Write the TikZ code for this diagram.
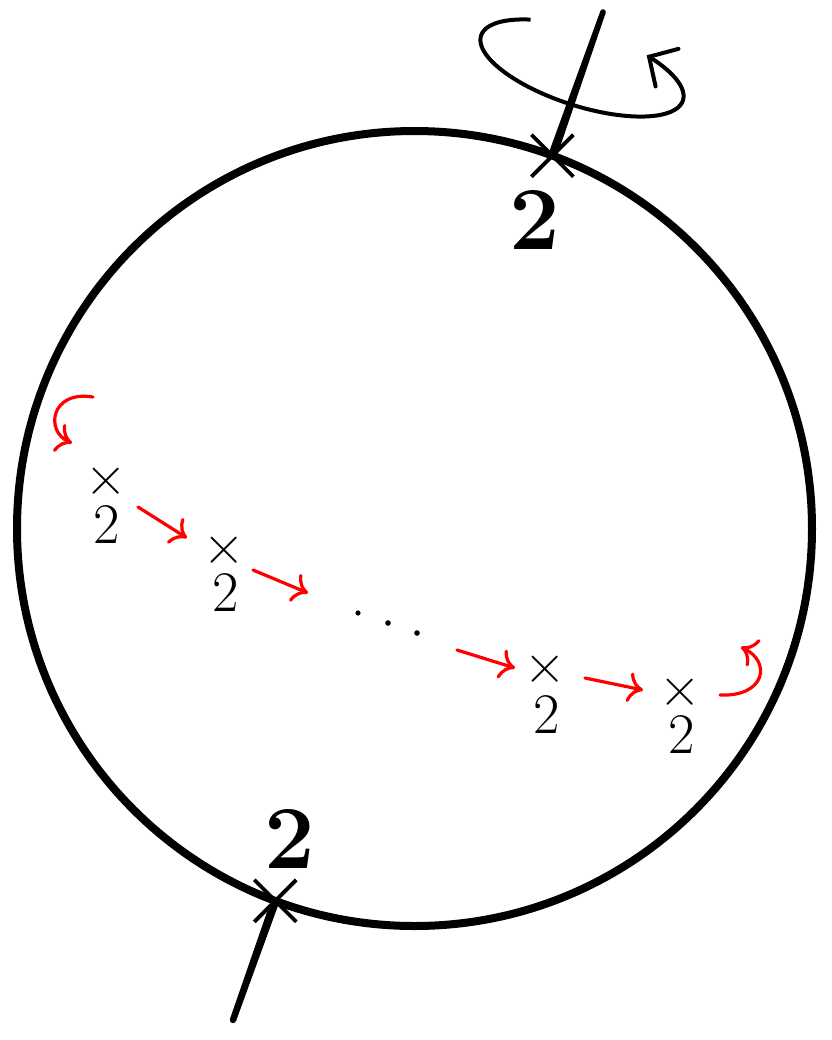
\documentclass[tikz,border=0pt]{standalone}
\usetikzlibrary{arrows.meta,calc}
\begin{document}
\begin{tikzpicture}[x=0.5pt,y=-0.5pt,
  sphere/.style={line width=4pt},
  crossmark/.style={line width=1.9pt},
  spinarrow/.style={line width=2pt, -{Straight Barb[length=10.5pt,width=22pt,line cap=round]}},
  bigtwo/.style={inner sep=0pt, font=\fontsize{45}{50}\selectfont\bfseries},
  smallmark/.style={inner sep=0pt, font=\fontsize{28.7}{30}\selectfont},
  redarrow/.style={red, line width=1.6pt, line cap=round, -{To[length=7.5pt,width=15pt]}},
]
\useasboundingbox (0,0) rectangle (831,1040);
% sphere
\coordinate (c) at (414.5,528.5);
\draw[sphere] (c) circle[radius=397.5];
% axis through the sphere (slightly tapered)
\coordinate (ptop) at ($(c)+(-69.7:397.5)$);
\coordinate (pbot) at ($(c)+(110.5:397.5)$);
\coordinate (ttop) at (603,12);
\coordinate (tbot) at (233,1020);
\fill ($(ptop)!2.2pt!90:(ttop)$) -- ($(ttop)!1.4pt!-90:(ptop)$) -- ($(ttop)!1.4pt!90:(ptop)$) -- ($(ptop)!2.2pt!-90:(ttop)$) -- cycle;
\fill (ttop) circle[radius=2.8];
\fill ($(pbot)!2.1pt!90:(tbot)$) -- ($(tbot)!1.6pt!-90:(pbot)$) -- ($(tbot)!1.6pt!90:(pbot)$) -- ($(pbot)!2.1pt!-90:(tbot)$) -- cycle;
\fill (tbot) circle[radius=3.2];
\draw[crossmark] ($(ptop)+(-21,-21)$) -- ($(ptop)+(21,21)$);
\draw[crossmark] ($(ptop)+(-21,21)$) -- ($(ptop)+(21,-21)$);
\draw[crossmark] ($(pbot)+(-21,-21)$) -- ($(pbot)+(21,21)$);
\draw[crossmark] ($(pbot)+(-21,21)$) -- ($(pbot)+(21,-21)$);
\node[bigtwo] (ttwo) at (535,220) {2};
\node[bigtwo] (btwo) at (290,839) {2};
% rotation arrow around the axis
\draw[spinarrow] plot[domain=0:290, samples=120, smooth]
  ({582 + 106*cos(233-\x)*cos(17.8) - 38*sin(233-\x)*sin(17.8)},
   {68 + 106*cos(233-\x)*sin(17.8) + 38*sin(233-\x)*cos(17.8)});
% small marked points
\node[smallmark] (m1x) at (106,482) {×};
\node[smallmark] (m1) at (107,525) {2};
\node[smallmark] (m2x) at (224,551) {×};
\node[smallmark] (m2) at (226,593) {2};
\node[smallmark] (m3x) at (545,670) {×};
\node[smallmark] (m3) at (547,715) {2};
\node[smallmark] (m4x) at (680,693) {×};
\node[smallmark] (m4) at (682,735) {2};
% dots
\fill (358,613) circle[radius=2.6];
\fill (388,623) circle[radius=2.8];
\fill (417,633) circle[radius=2.8];
% red arrows
\coordinate (a1s) at (138,507); \coordinate (a1e) at (187,538);
\coordinate (a2s) at (253,570); \coordinate (a2e) at (308,593);
\coordinate (a3s) at (457,650); \coordinate (a3e) at (515,668);
\coordinate (a4s) at (585,678); \coordinate (a4e) at (643,690);
\draw[redarrow] (a1s) -- (a1e);
\draw[redarrow] (a2s) -- (a2e);
\draw[redarrow] (a3s) -- (a3e);
\draw[redarrow] (a4s) -- (a4e);
\coordinate (h1s) at (93,397); \coordinate (h1e) at (72,443);
\coordinate (h2s) at (720,695); \coordinate (h2e) at (741,647);
\draw[redarrow] (h1s) .. controls (50,390) and (45,432) .. (h1e);
\draw[redarrow] (h2s) .. controls (765,697) and (772,662) .. (h2e);
\end{tikzpicture}
\end{document}
